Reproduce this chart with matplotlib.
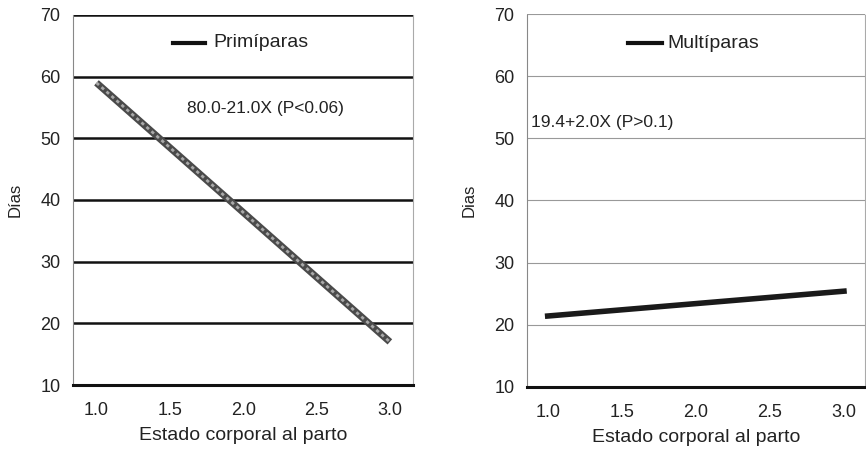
import matplotlib.pyplot as plt

plt.rcParams['font.family'] = ['Liberation Sans', 'DejaVu Sans']

# condicion corporal al parto
x_vals = [1.0, 3.0]
# dias (recta de regresion)
prim_dias = [59.0, 17.0]
mult_dias = [21.4, 25.4]

x_ticks = [1.0, 1.5, 2.0, 2.5, 3.0]
y_ticks = [10, 20, 30, 40, 50, 60, 70]


def style_axes(ax, grid_color, grid_width, xlim):
    ax.set_xlim(*xlim)
    ax.set_ylim(10, 70)
    ax.set_xticks(x_ticks)
    ax.set_xticklabels(['%.1f' % t for t in x_ticks])
    ax.set_yticks(y_ticks)
    ax.tick_params(length=0, labelsize=13, colors='#222222')
    ax.tick_params(axis='x', pad=12)
    ax.tick_params(axis='y', pad=9)
    for t in y_ticks[1:]:
        ax.axhline(t, color=grid_color, lw=grid_width, zorder=1)
    ax.spines['top'].set_visible(False)
    ax.spines['bottom'].set_linewidth(2.2)
    ax.spines['bottom'].set_color('#111111')
    ax.spines['left'].set_linewidth(0.8)
    ax.spines['left'].set_color('#888888')
    ax.spines['left'].set_linestyle((0, (2, 1)))
    ax.spines['right'].set_linewidth(0.8)
    ax.spines['right'].set_color('#aaaaaa')
    ax.spines['right'].set_linestyle((0, (2, 1)))
    ax.set_xlabel('Estado corporal al parto', fontsize=14, color='#222222', labelpad=6)


fig = plt.figure(figsize=(8.66, 4.53), dpi=100)

ax1 = fig.add_axes([0.0843, 0.150, 0.393, 0.817])
style_axes(ax1, '#111111', 1.8, (0.84, 3.16))
ax1.set_ylabel('Días', fontsize=12, color='#222222', labelpad=13)
ax1.plot(x_vals, prim_dias, color='#4a4a4a', lw=5, solid_capstyle='butt', zorder=3)
ax1.plot(x_vals, prim_dias, color='#a8a8a8', lw=2, ls=(0, (1.2, 1.2)), zorder=4)
ax1.plot([1.52, 1.74], [65.5, 65.5], color='#111111', lw=3)
ax1.text(1.795, 65.5, 'Primíparas', fontsize=14, va='center', color='#222222')
ax1.text(2.15, 54.8, '80.0-21.0X (P<0.06)', fontsize=12.5,
         ha='center', va='center', color='#222222')

ax2 = fig.add_axes([0.6085, 0.146, 0.390, 0.823])
style_axes(ax2, '#999999', 0.8, (0.86, 3.14))
ax2.set_ylabel('Dias', fontsize=12, color='#222222', labelpad=13)
ax2.plot(x_vals, mult_dias, color='#1a1a1a', lw=4, zorder=3)
ax2.plot([1.54, 1.77], [65.3, 65.3], color='#111111', lw=3)
ax2.text(1.81, 65.3, 'Multíparas', fontsize=14, va='center', color='#222222')
ax2.text(0.89, 52.6, '19.4+2.0X (P>0.1)', fontsize=12.5,
         ha='left', va='center', color='#222222')

fig.savefig('out.png', dpi=100)
